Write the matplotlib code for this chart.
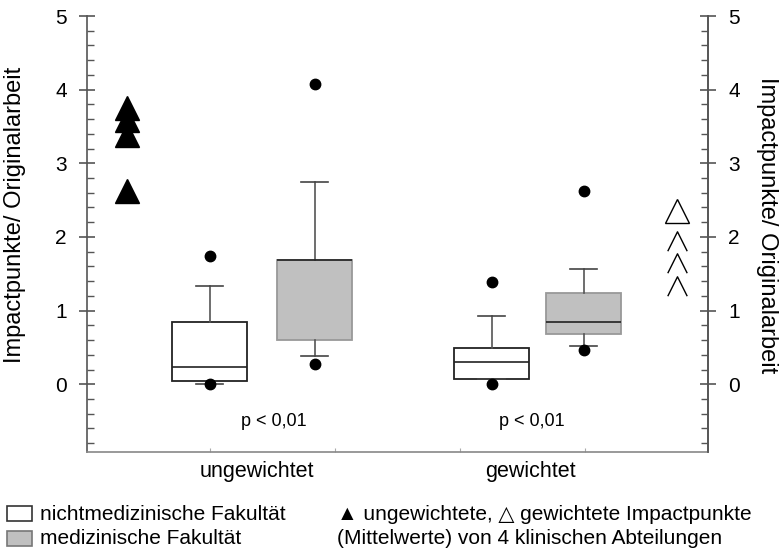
import matplotlib
matplotlib.use("Agg")
import matplotlib.pyplot as plt
from matplotlib.ticker import MultipleLocator, FixedLocator
from matplotlib.path import Path
from matplotlib.patches import Rectangle

plt.rcParams['font.family'] = ['Liberation Sans', 'DejaVu Sans']

# ---- data ----
groups = ["ungewichtet", "gewichtet"]
series = ["nichtmedizinische Fakultät", "medizinische Fakultät"]
box_pos = [1.23, 2.28, 4.05, 4.97]
q1 = [0.05, 0.60, 0.07, 0.68]
med = [0.23, 1.69, 0.30, 0.85]
q3 = [0.85, 1.69, 0.49, 1.24]
whislo = [0.00, 0.38, 0.07, 0.52]
whishi = [1.34, 2.75, 0.92, 1.56]
fliers = [[1.74, 0.00], [4.08, 0.27], [1.39, 0.00], [2.63, 0.47]]
box_colors = ["white", "#c0c0c0", "white", "#c0c0c0"]
edge_colors = ["#222222", "#999999", "#222222", "#999999"]

unweighted_clinic = [3.75, 3.59, 3.39, 2.62]
weighted_clinic = [2.35, 1.94, 1.65, 1.33]
tri_x = 0.40
open_x = 5.90
group_x = [1.70, 4.43]
p_text = ["p < 0,01", "p < 0,01"]
p_x = [1.87, 4.45]

fig = plt.figure(figsize=(7.82, 5.51), dpi=100)
ax = fig.add_axes([87/782, 1-452/551, 621/782, 436/551])
ax.set_xlim(0, 6.21)
ax.set_ylim(-0.92, 5.0)

stats = []
for i in range(4):
    stats.append(dict(q1=q1[i], med=med[i], q3=q3[i], whislo=whislo[i],
                      whishi=whishi[i], fliers=fliers[i]))
bp = ax.bxp(stats, positions=box_pos, widths=0.75, patch_artist=True,
            showfliers=True, manage_ticks=False,
            flierprops=dict(marker='o', markerfacecolor='black',
                            markeredgecolor='black', markersize=7.5),
            medianprops=dict(color='#222222', linewidth=1.2),
            whiskerprops=dict(color='#555555', linewidth=1.2),
            capprops=dict(color='#444444', linewidth=1.2),
            capwidths=0.27)
for patch, fc, ec in zip(bp['boxes'], box_colors, edge_colors):
    patch.set_facecolor(fc)
    patch.set_edgecolor(ec)
    patch.set_linewidth(1.3)

# clinic means
ax.plot([tri_x]*len(unweighted_clinic), unweighted_clinic, linestyle='none',
        marker='^', markersize=17, color='black', clip_on=False)
ax.plot([open_x], weighted_clinic[:1], linestyle='none', marker='^',
        markersize=17, markerfacecolor='none', markeredgecolor='black',
        markeredgewidth=1.0, clip_on=False)
chevron = Path([(-1, -1), (0, 1), (1, -1)], [Path.MOVETO, Path.LINETO, Path.LINETO])
ax.plot([open_x]*3, weighted_clinic[1:], linestyle='none', marker=chevron,
        markersize=14, markerfacecolor='none', markeredgecolor='black',
        markeredgewidth=1.0, clip_on=False)

for x, t in zip(p_x, p_text):
    ax.text(x, -0.50, t, ha='center', va='center', fontsize=13)

# axes styling
ax.spines['top'].set_visible(False)
for s in ['left', 'right']:
    ax.spines[s].set_color('#555555')
    ax.spines[s].set_linewidth(1.2)
ax.spines['bottom'].set_color('#888888')
ax.spines['bottom'].set_linewidth(1.2)

ax.yaxis.set_major_locator(FixedLocator([0, 1, 2, 3, 4, 5]))
ax.yaxis.set_minor_locator(MultipleLocator(0.2))
ax.tick_params(axis='y', which='major', direction='inout', length=11,
               width=1.2, color='#555555', labelsize=15, pad=9)
ax.tick_params(axis='y', which='minor', direction='in', length=5,
               width=1.0, color='#555555')
ax.xaxis.set_major_locator(FixedLocator([1.23, 2.48, 3.73, 4.98]))
ax.tick_params(axis='x', which='major', direction='in', length=3,
               color='#aaaaaa', labelbottom=False)

ax2 = ax.twinx()
ax2.set_ylim(ax.get_ylim())
ax2.spines['top'].set_visible(False)
ax2.spines['left'].set_visible(False)
ax2.spines['bottom'].set_visible(False)
ax2.spines['right'].set_color('#555555')
ax2.spines['right'].set_linewidth(1.2)
ax2.yaxis.set_major_locator(FixedLocator([0, 1, 2, 3, 4, 5]))
ax2.yaxis.set_minor_locator(MultipleLocator(0.2))
ax2.tick_params(axis='y', which='major', direction='inout', length=11,
                width=1.2, color='#555555', labelsize=15, pad=9)
ax2.tick_params(axis='y', which='minor', direction='in', length=5,
                width=1.0, color='#555555')

ax.set_ylabel("Impactpunkte/ Originalarbeit", fontsize=17)
ax.yaxis.set_label_coords(-0.098, 0.545)
ax2.set_ylabel("Impactpunkte/ Originalarbeit", fontsize=17, rotation=270, va='center')
ax2.yaxis.set_label_coords(1.095, 0.52)

for x, g in zip(group_x, groups):
    ax.text(x, -1.19, g, ha='center', va='center', fontsize=15.5, clip_on=False)

# legend
for i, (lab, fc, ec) in enumerate(zip(series, ["white", "#c0c0c0"], ["#333333", "#777777"])):
    ypix = 514 + 25 * i
    fig.patches.append(Rectangle((7/782, 1-(ypix+7)/551), 25/782, 15/551,
                                 transform=fig.transFigure, facecolor=fc,
                                 edgecolor=ec, linewidth=1.2))
    fig.text(40/782, 1-ypix/551, lab, ha='left', va='center', fontsize=15)

fig.text(337/782, 1-514/551, "▲ ungewichtete, △ gewichtete Impactpunkte",
         ha='left', va='center', fontsize=15)
fig.text(337/782, 1-539/551, "(Mittelwerte) von 4 klinischen Abteilungen",
         ha='left', va='center', fontsize=15)

fig.savefig("out.png", dpi=100)
